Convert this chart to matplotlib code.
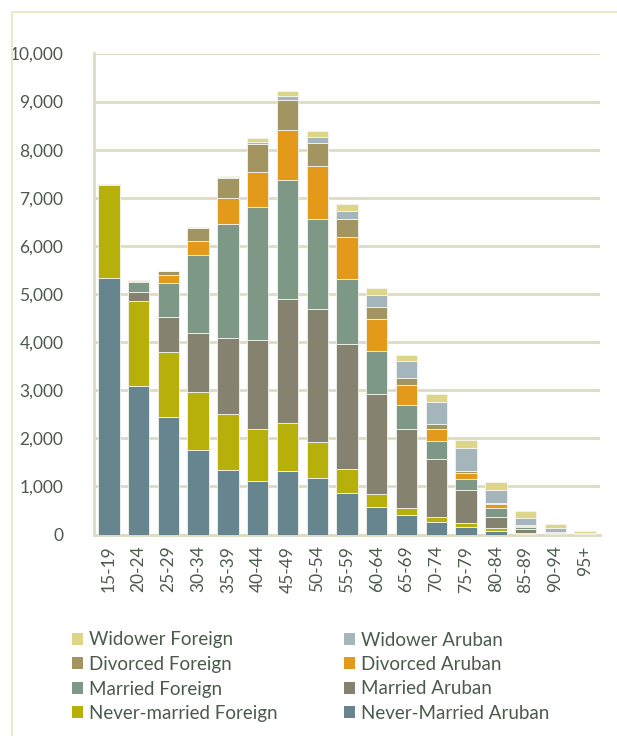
import numpy as np
import matplotlib.pyplot as plt
from matplotlib.patches import Patch
from matplotlib.lines import Line2D

plt.rcParams.update({
    "font.family": ["Lato", "DejaVu Sans"],
})

ages = ["15-19", "20-24", "25-29", "30-34", "35-39", "40-44", "45-49", "50-54",
        "55-59", "60-64", "65-69", "70-74", "75-79", "80-84", "85-89", "90-94", "95+"]

never_married_aruban = [5330, 3094, 2436, 1750, 1341, 1119, 1327, 1181, 869, 578, 405, 267, 162, 66, 15, 5, 3]
never_married_foreign = [1935, 1767, 1358, 1219, 1158, 1068, 991, 742, 493, 264, 146, 90, 77, 69, 15, 8, 2]
married_aruban = [5, 174, 728, 1220, 1580, 1850, 2571, 2771, 2592, 2085, 1636, 1219, 680, 222, 80, 15, 4]
married_foreign = [25, 208, 713, 1622, 2383, 2765, 2481, 1872, 1358, 882, 512, 361, 241, 200, 40, 15, 3]
divorced_aruban = [0, 30, 154, 297, 528, 741, 1040, 1102, 867, 665, 416, 256, 119, 70, 20, 5, 1]
divorced_foreign = [0, 10, 89, 258, 415, 582, 623, 478, 387, 249, 145, 111, 47, 28, 25, 10, 2]
widower_aruban = [0, 0, 0, 15, 21, 41, 90, 124, 166, 250, 353, 457, 479, 277, 155, 84, 12]
widower_foreign = [0, 0, 0, 12, 27, 77, 97, 125, 145, 152, 119, 166, 166, 159, 140, 76, 46]

series = [
    ("Never-Married Aruban", never_married_aruban, "#66858f"),
    ("Never-married Foreign", never_married_foreign, "#b8b00a"),
    ("Married Aruban", married_aruban, "#858370"),
    ("Married Foreign", married_foreign, "#7d9886"),
    ("Divorced Aruban", divorced_aruban, "#e39a1a"),
    ("Divorced Foreign", divorced_foreign, "#a39561"),
    ("Widower Aruban", widower_aruban, "#a4b6bc"),
    ("Widower Foreign", widower_foreign, "#ddd688"),
]

text_color = "#4b5b4b"
grid_color = "#dedbc3"

fig = plt.figure(figsize=(6.17, 7.36), dpi=100)
ax = fig.add_axes([94 / 617, 201.5 / 736, 506 / 617, 481 / 736])

x = np.arange(len(ages))
bottom = np.zeros(len(ages))
for name, vals, col in series:
    vals = np.array(vals, dtype=float)
    ax.bar(x, vals, 0.72, bottom=bottom, color=col, edgecolor="#f4f4ee",
           linewidth=0.6, label=name, zorder=3)
    bottom += vals

ax.set_xlim(-0.5, len(ages) - 0.5)
ax.set_ylim(0, 10000)
ax.set_yticks(np.arange(0, 10001, 1000))
ax.set_yticklabels([f"{v:,}" for v in range(0, 10001, 1000)])
ax.set_xticks(x)
ax.set_xticklabels(ages, rotation=90)
ax.tick_params(axis="both", length=0, colors=text_color, labelsize=12.5)
ax.tick_params(axis="y", pad=22)
ax.tick_params(axis="x", pad=8)
ax.grid(axis="y", color=grid_color, linewidth=2, zorder=0)
for s in ["top", "right"]:
    ax.spines[s].set_visible(False)
for s in ["left", "bottom"]:
    ax.spines[s].set_color(grid_color)
    ax.spines[s].set_linewidth(2)

# outer chart border (left and top edges)
border = "#ebe8cc"
fig.add_artist(Line2D([11.5 / 617, 11.5 / 617], [0, 1 - 12 / 736], color=border, lw=1.5))
fig.add_artist(Line2D([11.5 / 617, 1], [1 - 12 / 736, 1 - 12 / 736], color=border, lw=1.5))

# legend: column 1 foreign, column 2 aruban
order = [7, 5, 3, 1, 6, 4, 2, 0]
handles = [Patch(facecolor=series[i][2], edgecolor="none") for i in order]
labels = [series[i][0] for i in order]
fig.legend(handles, labels, ncol=2, loc="upper left",
           bbox_to_anchor=(64 / 617, 1 - 624 / 736), frameon=False,
           fontsize=13.5, labelcolor=text_color, handlelength=0.6,
           handleheight=0.6, handletextpad=0.35, columnspacing=3.5,
           labelspacing=0.4, borderaxespad=0)

plt.savefig("out.png", dpi=100)
